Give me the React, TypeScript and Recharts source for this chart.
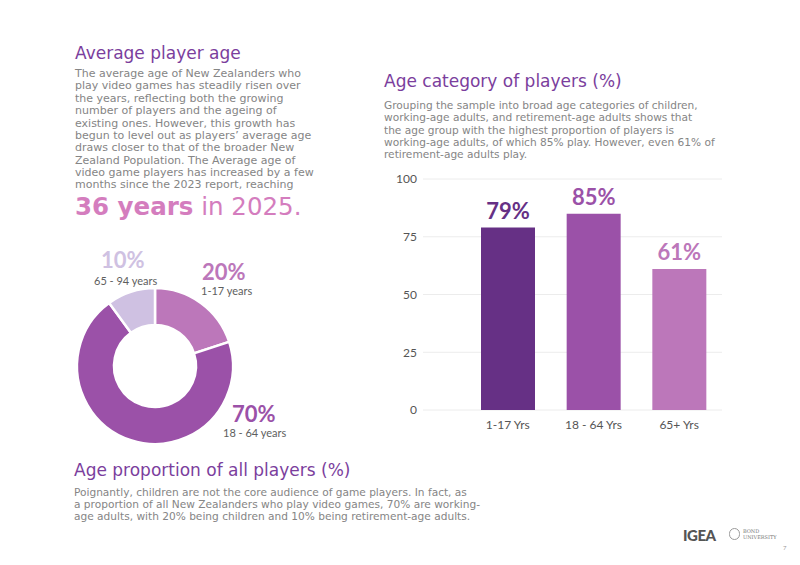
import React from 'react';
import { PieChart, Pie, Cell, BarChart, Bar, XAxis, YAxis, CartesianGrid } from 'recharts';

// Share of all players by age group (donut)
const shareGroups = ['1-17 years', '18 - 64 years', '65 - 94 years'];
const shareValues = [20, 70, 10];
const shareColors = ['#bc77ba', '#9b51a8', '#cfc1e2'];

// Proportion of each age category that plays (bars)
const categoryLabels = ['1-17 Yrs', '18 - 64 Yrs', '65+ Yrs'];
const categoryValues = [79, 85, 61];
const categoryColors = ['#663085', '#9b51a8', '#bc77ba'];
const yTicks = [0, 25, 50, 75, 100];

const shareData = shareGroups.map((g, i) => ({ name: g, value: shareValues[i] }));
const categoryData = categoryLabels.map((c, i) => ({ name: c, value: categoryValues[i] }));

// Where each donut callout sits on the page
const calloutSpots = [
  { x: 202, y: 272, sx: 201, sy: 291 },
  { x: 232, y: 414, sx: 223, sy: 433 },
  { x: 101, y: 260, sx: 94, sy: 280.5 },
];

const BODY = '"DejaVu Sans", sans-serif';
const NUM = 'Lato, sans-serif';
const TITLE_COLOR = '#7b3e9d';
const TEXT_COLOR = '#858585';

const leftLines = [
  'The average age of New Zealanders who',
  'play video games has steadily risen over',
  'the years, reflecting both the growing',
  'number of players and the ageing of',
  'existing ones. However, this growth has',
  'begun to level out as players\u2019 average age',
  'draws closer to that of the broader New',
  'Zealand Population. The Average age of',
  'video game players has increased by a few',
  'months since the 2023 report, reaching',
];

const rightLines = [
  'Grouping the sample into broad age categories of children,',
  'working-age adults, and retirement-age adults shows that',
  'the age group with the highest proportion of players is',
  'working-age adults, of which 85% play. However, even 61% of',
  'retirement-age adults play.',
];

const bottomLines = [
  'Poignantly, children are not the core audience of game players. In fact, as',
  'a proportion of all New Zealanders who play video games, 70% are working-',
  'age adults, with 20% being children and 10% being retirement-age adults.',
];

function Title({ x, y, children }: { x: number; y: number; children: React.ReactNode }) {
  return (
    <div
      style={{
        position: 'absolute',
        left: x,
        top: y - 12,
        height: 24,
        lineHeight: '24px',
        fontFamily: BODY,
        fontSize: 17,
        color: TITLE_COLOR,
        whiteSpace: 'nowrap',
      }}
    >
      {children}
    </div>
  );
}

function Paragraph({
  x,
  y,
  lines,
  lh,
  size = 10.8,
}: {
  x: number;
  y: number;
  lines: string[];
  lh: number;
  size?: number;
}) {
  return (
    <div
      style={{
        position: 'absolute',
        left: x,
        top: y - lh / 2,
        lineHeight: `${lh}px`,
        fontFamily: BODY,
        fontSize: size,
        color: TEXT_COLOR,
        whiteSpace: 'nowrap',
      }}
    >
      {lines.map((l, i) => (
        <div key={i}>{l}</div>
      ))}
    </div>
  );
}

const BarValueLabel = (props: any) => {
  const { x, y, width, value, index } = props;
  const i = typeof index === 'number' ? index : categoryValues.indexOf(Number(value));
  return (
    <text
      x={Number(x) + Number(width) / 2}
      y={Number(y) - 9}
      textAnchor="middle"
      fontFamily={NUM}
      fontWeight={700}
      fontSize={22}
      fill={categoryColors[i]}
    >
      {`${value}%`}
    </text>
  );
};

export default function App() {
  return (
    <div
      style={{
        position: 'absolute',
        left: 0,
        top: 0,
        width: 800,
        height: 565,
        background: '#ffffff',
        overflow: 'hidden',
      }}
    >
      {/* Average player age */}
      <Title x={75} y={53}>Average player age</Title>
      <Paragraph x={75} y={74.3} lines={leftLines} lh={12.35} size={11} />
      <div
        style={{
          position: 'absolute',
          left: 75,
          top: 207 - 16,
          height: 32,
          lineHeight: '32px',
          fontFamily: BODY,
          fontSize: 24.5,
          color: '#d47dbe',
          whiteSpace: 'nowrap',
        }}
      >
        <span style={{ fontWeight: 700 }}>36 years</span> in 2025.
      </div>

      {/* Donut: age proportion of all players */}
      <div style={{ position: 'absolute', left: 65, top: 276 }}>
        <PieChart width={180} height={180} margin={{ top: 0, right: 0, bottom: 0, left: 0 }}>
          <Pie
            data={shareData}
            dataKey="value"
            nameKey="name"
            cx={90}
            cy={90}
            innerRadius={41}
            outerRadius={78}
            startAngle={90}
            endAngle={-270}
            stroke="#ffffff"
            strokeWidth={2.5}
            isAnimationActive={false}
          >
            {shareData.map((d, i) => (
              <Cell key={d.name} fill={shareColors[i]} />
            ))}
          </Pie>
        </PieChart>
      </div>
      {shareData.map((d, i) => (
        <React.Fragment key={d.name}>
          <div
            style={{
              position: 'absolute',
              left: calloutSpots[i].x,
              top: calloutSpots[i].y - 11,
              height: 22,
              lineHeight: '22px',
              fontFamily: NUM,
              fontWeight: 700,
              fontSize: 22,
              color: shareColors[i],
              whiteSpace: 'nowrap',
            }}
          >
            {`${d.value}%`}
          </div>
          <div
            style={{
              position: 'absolute',
              left: calloutSpots[i].sx,
              top: calloutSpots[i].sy - 6,
              height: 12,
              lineHeight: '12px',
              fontFamily: NUM,
              fontSize: 11,
              color: '#5e5e5e',
              whiteSpace: 'nowrap',
            }}
          >
            {d.name}
          </div>
        </React.Fragment>
      ))}

      <Title x={74} y={470}>Age proportion of all players (%)</Title>
      <Paragraph x={74} y={493.3} lines={bottomLines} lh={11.8} size={10.6} />

      {/* Age category of players */}
      <Title x={384} y={81}>Age category of players (%)</Title>
      <Paragraph x={384} y={105} lines={rightLines} lh={12.4} size={10.6} />

      <div style={{ position: 'absolute', left: 360, top: 165 }}>
        <BarChart
          width={370}
          height={275}
          data={categoryData}
          margin={{ top: 14, right: 8, bottom: 0, left: 0 }}
          barSize={54}
        >
          <CartesianGrid vertical={false} stroke="#ececec" strokeWidth={1} />
          <XAxis
            dataKey="name"
            axisLine={false}
            tickLine={false}
            height={30}
            padding={{ left: 42, right: 0 }}
            tick={{ fontFamily: NUM, fontSize: 12, fill: '#555555' }}
            tickMargin={4}
            interval={0}
          />
          <YAxis
            domain={[0, 100]}
            ticks={yTicks}
            axisLine={false}
            tickLine={false}
            width={63}
            tick={{ fontFamily: NUM, fontSize: 12, fill: '#555555' }}
            tickMargin={0}
          />
          <Bar dataKey="value" isAnimationActive={false} label={BarValueLabel}>
            {categoryData.map((d, i) => (
              <Cell key={d.name} fill={categoryColors[i]} />
            ))}
          </Bar>
        </BarChart>
      </div>

      {/* Footer marks */}
      <div
        style={{
          position: 'absolute',
          left: 683,
          top: 526,
          fontFamily: NUM,
          fontWeight: 900,
          fontSize: 15,
          letterSpacing: -0.5,
          color: '#555555',
          lineHeight: '18px',
        }}
      >
        IGEA
      </div>
      <div
        style={{
          position: 'absolute',
          left: 729,
          top: 528,
          width: 11,
          height: 12,
          borderRadius: 6,
          border: '1px solid #9a9a9a',
          boxSizing: 'border-box',
        }}
      />
      <div
        style={{
          position: 'absolute',
          left: 743,
          top: 528,
          fontFamily: '"DejaVu Serif", serif',
          fontSize: 5,
          lineHeight: '6px',
          color: '#777777',
        }}
      >
        BOND
        <br />
        UNIVERSITY
      </div>
      <div
        style={{
          position: 'absolute',
          left: 783,
          top: 544,
          fontFamily: NUM,
          fontSize: 6,
          color: '#999999',
        }}
      >
        7
      </div>
    </div>
  );
}
